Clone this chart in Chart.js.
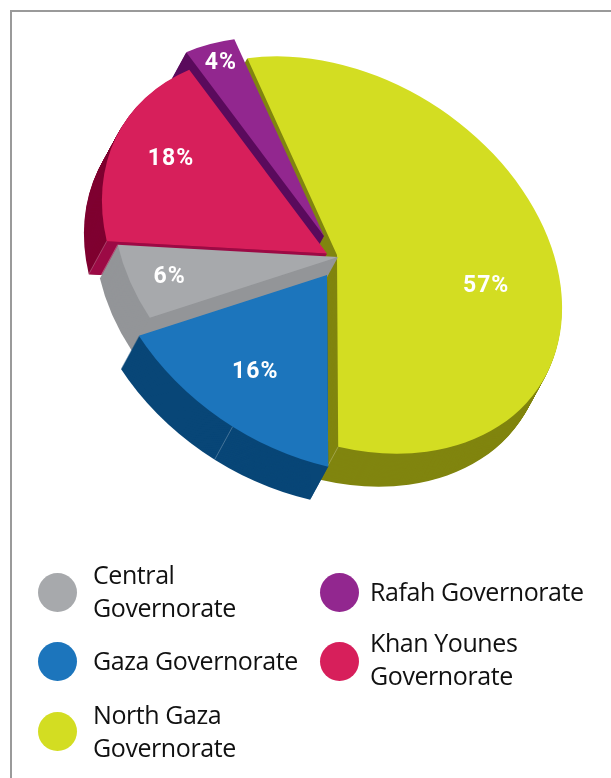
<!DOCTYPE html>
<html>
<head>
<meta charset="utf-8">
<title>Governorates</title>
<script src="https://cdn.jsdelivr.net/npm/chart.js@4"></script>
<style>
  html, body { margin: 0; padding: 0; background: #fff; overflow: hidden; }
  #page { position: relative; width: 611px; height: 778px; overflow: hidden; }
  #frame { position: absolute; left: 9.5px; top: 9.5px; width: 800px; height: 900px; border: 2.5px solid #9a9a9a; }
  #pie { position: absolute; left: 0; top: 0; }
  .key { position: absolute; width: 39px; height: 39px; border-radius: 50%; }
  .name { position: absolute; font-family: "Open Sans", sans-serif; font-size: 25px; line-height: 33px; letter-spacing: -0.42px; color: #111; white-space: nowrap; }
</style>
</head>
<body>
<div id="page">
  <div id="frame"></div>
  <canvas id="pie" width="611" height="778"></canvas>
  <div id="legend"></div>
</div>
<script>
// values as printed on the slices, clockwise from the top
var categories = ["North Gaza Governorate", "Gaza Governorate", "Central Governorate", "Khan Younes Governorate", "Rafah Governorate"];
var shares = [57, 16, 6, 18, 4];

var topColors = ["#d3dd22", "#1c75bc", "#a7a9ac", "#d71f5b", "#92278f"];
var wallColors = ["#80850f", "#084677", "#939598", "#7f0030", "#5a0a5c"];
var faceColors = ["#80850f", "#084677", "#939598", "#9c0a45", "#5a0a5c"];

// how far each slice is pulled out of the pie, in page pixels
var pullX = [0, -10, 1, -10, -13];
var pullY = [0, 20, 2, -1.5, -19];
// label place in a slice: part of the sweep, part of the radius
var labelSweep = [0.55, 0.5, 0.5, 0.55, 0.5];
var labelRadius = [0.663, 0.675, 0.81, 0.755, 0.9];
// seam on the outer wall, as a part of the slice sweep
var seamAt = [1, 0.44, 1, 0, null];
var drawOrder = [0, 4, 3, 2, 1];

// tilt of the flat pie: page pixels per unit of radius, plus extrusion
var tilt = { a: 225, b: -6, c: 58, d: 190, x: 337, y: 255 };
var depth = { x: -18, y: 33 };

var legendRows = [
  { i: 2, lines: ["Central", "Governorate"], x: 38, y: 573, tx: 93, ty: 558 },
  { i: 1, lines: ["Gaza Governorate"], x: 38, y: 642, tx: 93, ty: 644 },
  { i: 0, lines: ["North Gaza", "Governorate"], x: 38, y: 712, tx: 93, ty: 698 },
  { i: 4, lines: ["Rafah Governorate"], x: 320, y: 573, tx: 370, ty: 575 },
  { i: 3, lines: ["Khan Younes", "Governorate"], x: 320, y: 642, tx: 370, ty: 626 }
];

function place(ctx, arc, index, dx, dy) {
  var s = 1 / arc.outerRadius;
  ctx.translate(tilt.x + pullX[index] + dx, tilt.y + pullY[index] + dy);
  ctx.transform(tilt.a * s, tilt.c * s, tilt.b * s, tilt.d * s, 0, 0);
  ctx.translate(-arc.x, -arc.y);
}

function fillSlice(ctx, arc, index, dx, dy, color) {
  ctx.save();
  place(ctx, arc, index, dx, dy);
  ctx.beginPath();
  ctx.moveTo(arc.x, arc.y);
  ctx.arc(arc.x, arc.y, arc.outerRadius, arc.startAngle, arc.endAngle);
  ctx.closePath();
  ctx.fillStyle = color;
  ctx.fill();
  ctx.restore();
}

function toPage(ctx, arc, index, angle, r) {
  ctx.save();
  place(ctx, arc, index, 0, 0);
  var m = ctx.getTransform();
  ctx.restore();
  var x = arc.x + Math.cos(angle) * r, y = arc.y + Math.sin(angle) * r;
  return { x: m.a * x + m.c * y + m.e, y: m.b * x + m.d * y + m.f };
}

var tiltedPie = {
  id: "tiltedPie",
  beforeDatasetDraw: function (chart, args) {
    var ctx = chart.ctx;
    var arcs = chart.getDatasetMeta(args.index).data;
    drawOrder.forEach(function (i) {
      var arc = arcs[i];
      // wall: the slice swept along the extrusion
      for (var k = depth.y; k > 0; k--) {
        fillSlice(ctx, arc, i, depth.x * k / depth.y, k, wallColors[i]);
      }
      // cut face on the slice's first edge
      var apex = toPage(ctx, arc, i, arc.startAngle, 0);
      var rim = toPage(ctx, arc, i, arc.startAngle, arc.outerRadius);
      ctx.beginPath();
      ctx.moveTo(apex.x, apex.y);
      ctx.lineTo(rim.x, rim.y);
      ctx.lineTo(rim.x + depth.x, rim.y + depth.y);
      ctx.lineTo(apex.x + depth.x, apex.y + depth.y);
      ctx.closePath();
      ctx.fillStyle = faceColors[i];
      ctx.fill();
      if (seamAt[i] !== null) {
        var p = toPage(ctx, arc, i, arc.startAngle + (arc.endAngle - arc.startAngle) * seamAt[i], arc.outerRadius);
        ctx.beginPath();
        ctx.moveTo(p.x, p.y);
        ctx.lineTo(p.x + depth.x, p.y + depth.y);
        ctx.strokeStyle = "rgba(255,255,255,0.35)";
        ctx.lineWidth = 0.7;
        ctx.stroke();
      }
      fillSlice(ctx, arc, i, 0, 0, arc.options.backgroundColor);
    });
    ctx.save();
    ctx.fillStyle = "#fff";
    ctx.font = "bold 23px Roboto, sans-serif";
    ctx.letterSpacing = "1px";
    ctx.textAlign = "center";
    ctx.textBaseline = "middle";
    arcs.forEach(function (arc, i) {
      var angle = arc.startAngle + (arc.endAngle - arc.startAngle) * labelSweep[i];
      var p = toPage(ctx, arc, i, angle, labelRadius[i] * arc.outerRadius);
      ctx.fillText(shares[i] + "%", p.x, p.y);
    });
    ctx.restore();
    return false;
  }
};

new Chart(document.getElementById("pie"), {
  type: "pie",
  data: {
    labels: categories,
    datasets: [{ data: shares, backgroundColor: topColors, borderWidth: 0 }]
  },
  options: {
    responsive: false,
    animation: false,
    rotation: -25,
    events: [],
    plugins: { legend: { display: false }, tooltip: { enabled: false } }
  },
  plugins: [tiltedPie]
});

var legend = document.getElementById("legend");
legendRows.forEach(function (row) {
  var key = document.createElement("div");
  key.className = "key";
  key.style.left = row.x + "px";
  key.style.top = row.y + "px";
  key.style.background = topColors[row.i];
  legend.appendChild(key);
  var name = document.createElement("div");
  name.className = "name";
  name.style.left = row.tx + "px";
  name.style.top = row.ty + "px";
  name.innerHTML = row.lines.join("<br>");
  legend.appendChild(name);
});
</script>
</body>
</html>
